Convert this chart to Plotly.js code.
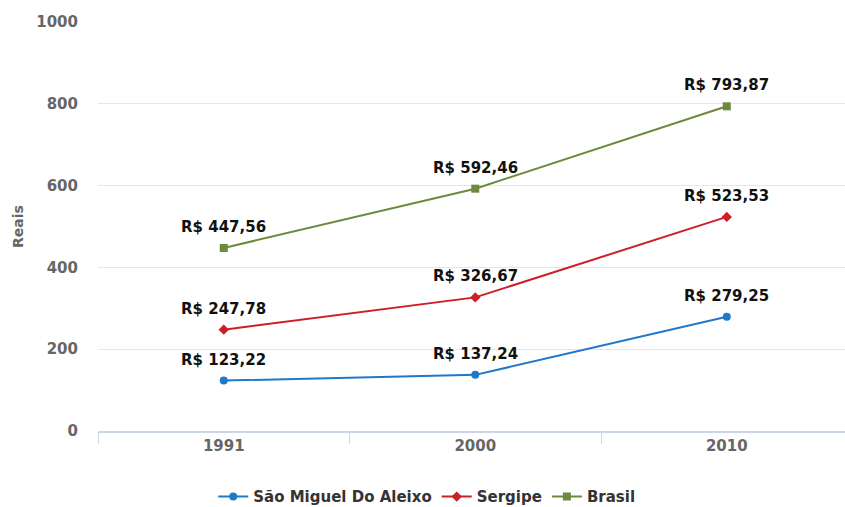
<!DOCTYPE html>
<html><head><meta charset="utf-8">
<script src="https://cdn.plot.ly/plotly-3.0.1.min.js"></script>
<style>html,body{margin:0;padding:0;background:#fff}#c{width:845px;height:507px}</style>
</head><body><div id="c"></div>
<script>
const years = ['1991','2000','2010'];
const saoMiguel = [123.22, 137.24, 279.25];
const sergipe = [247.78, 326.67, 523.53];
const brasil = [447.56, 592.46, 793.87];
const seriesNames = ['São Miguel Do Aleixo','Sergipe','Brasil'];
const colors = ['#1f78c8','#cc1f27','#6b8a3c'];
const symbols = ['circle','diamond','square'];
const allSeries = [saoMiguel, sergipe, brasil];

const fmt = v => 'R$ ' + v.toFixed(2).replace('.', ',');
const FONT = 'DejaVu Sans, sans-serif';

const traces = allSeries.map((vals, i) => ({
  x: years, y: vals, name: seriesNames[i], type: 'scatter', mode: 'lines+markers',
  line: {color: colors[i], width: 2},
  marker: {color: colors[i], symbol: symbols[i], size: 8},
  hoverinfo: 'none'
}));

const annotations = [];
allSeries.forEach((vals) => {
  vals.forEach((v, j) => {
    annotations.push({x: j, y: v, xref: 'x', yref: 'y', text: '<b>' + fmt(v) + '</b>', showarrow: false,
      yshift: 21, font: {family: FONT, size: 15, color: '#111'}});
  });
});

const layout = {
  width: 845, height: 507,
  margin: {l: 98, r: 0, t: 22, b: 76},
  paper_bgcolor: '#fff', plot_bgcolor: '#fff',
  showlegend: true,
  legend: {orientation: 'h', xref: 'container', x: 0.505, xanchor: 'center', yref: 'container', y: 0.02, yanchor: 'middle',
    font: {family: FONT, size: 15, color: '#333', weight: 'bold'}},
  xaxis: {type: 'category', range: [-0.5, 2.47], showgrid: false, showline: true, linecolor: '#ccd6eb', linewidth: 2,
    ticks: 'outside', tickson: 'boundaries', ticklen: 11, tickcolor: '#ccd6eb', tickwidth: 1,
    tickfont: {family: FONT, size: 15, color: '#666', weight: 'bold'}, zeroline: false},
  yaxis: {range: [0, 1000], dtick: 200, showgrid: true, gridcolor: '#e6e6e6', zeroline: false, showline: false,
    ticks: 'outside', ticklen: 16, tickcolor: '#fff',
    tickfont: {family: FONT, size: 15, color: '#666', weight: 'bold'},
    title: {text: 'Reais', font: {family: FONT, size: 14, color: '#666', weight: 'bold'}, standoff: 9}},
  annotations: annotations
};
Plotly.newPlot('c', traces, layout, {staticPlot: true, displayModeBar: false});
</script></body></html>
